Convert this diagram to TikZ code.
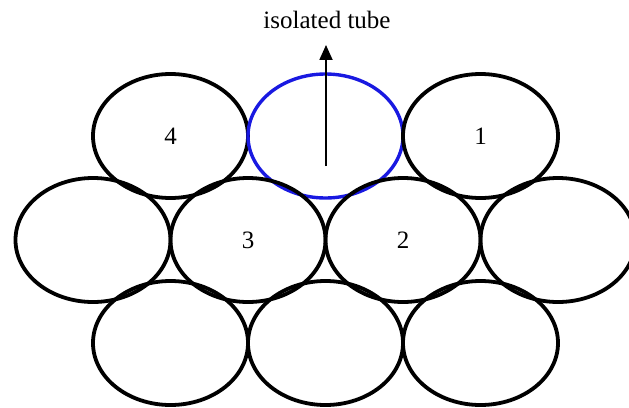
\documentclass[tikz,border=0pt]{standalone}
\usepackage{fontspec}
\setmainfont{Liberation Serif}
\usetikzlibrary{arrows.meta,shapes.geometric,positioning}
\definecolor{tubeBlue}{RGB}{25,25,225}

\begin{document}
\begin{tikzpicture}[x=1pt, y=-1pt, >={Triangle[length=15pt,width=13pt]},
  tube/.style={ellipse, draw, line width=3.8pt, minimum width=155pt,
    minimum height=124pt, inner sep=0pt, font=\fontsize{25}{25}\selectfont}]
\useasboundingbox (0,0) rectangle (629,407);
\clip (0,0) rectangle (629,407);
% top row
\node[tube] (t1) at (170.5,136) {4};
\node[tube, draw=tubeBlue, line width=3.4pt] (iso) at (325.5,136) {};
\node[tube] (t3) at (480.5,136) {1};
% middle row
\node[tube] (m1) at (93,240) {};
\node[tube] (m2) at (248,240) {3};
\node[tube] (m3) at (403,240) {2};
\node[tube] (m4) at (558,240) {};
% bottom row
\node[tube] (b1) at (170.5,343) {};
\node[tube] (b2) at (325.5,343) {};
\node[tube] (b3) at (480.5,343) {};
% isolated tube label
\node[font=\fontsize{25}{25}\selectfont, inner sep=0pt] (lbl) at (327,20) {isolated tube};
\coordinate (foot) at (326,166);
\draw[->, line width=1.8pt, shorten >=16pt] (foot) -- (foot |- lbl.south);
\end{tikzpicture}
\end{document}
